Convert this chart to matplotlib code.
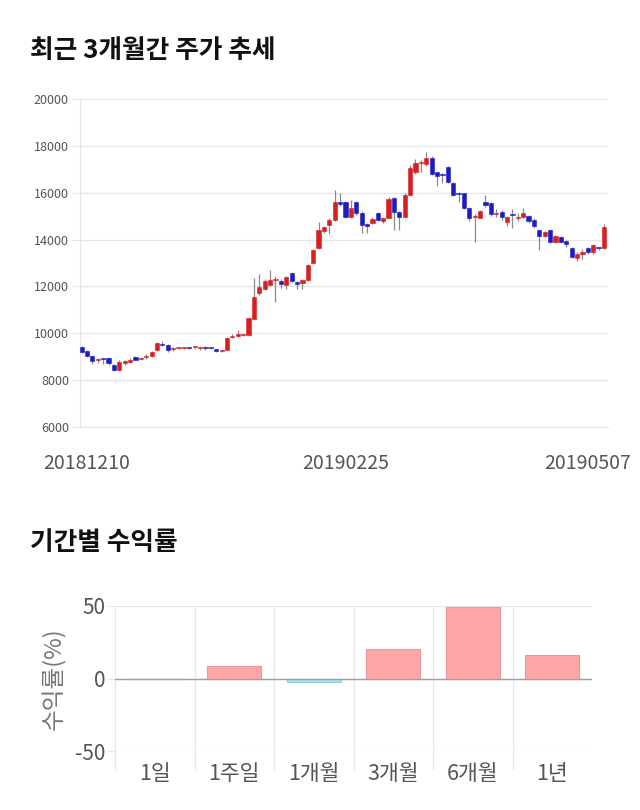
import numpy as np
import matplotlib
matplotlib.use("Agg")
import matplotlib.pyplot as plt
import matplotlib.transforms as mtransforms

plt.rcParams['font.family'] = ['Noto Sans CJK KR', 'DejaVu Sans']
plt.rcParams['axes.unicode_minus'] = False

# daily candles (open, close, high, low)
opens = [9400, 9250, 9050, 8850, 8900, 8950, 8650, 8450, 8730, 8780,
         9000, 8900, 9000, 9050, 9290, 9560, 9500, 9330, 9370, 9380,
         9390, 9400, 9380, 9400, 9380, 9330, 9250, 9300, 9840, 9900,
         9930, 9930, 10610, 11720, 11890, 12060, 12290, 12230, 12060, 12570,
         12190, 12150, 12270, 13000, 13640, 14370, 14620, 14840, 15600, 15600,
         14960, 15600, 15130, 14660, 14710, 15130, 14800, 14920, 15780, 15180,
         14960, 15900, 16880, 17260, 17230, 17480, 16880, 16800, 17100, 16420,
         15990, 15990, 15350, 14960, 14920, 15600, 15560, 15100, 15180, 14750,
         15100, 14900, 14960, 15000, 14840, 14410, 14150, 14410, 13900, 14110,
         13940, 13640, 13220, 13400, 13640, 13470, 13660, 13640]
closes = [9200, 9050, 8820, 8880, 8890, 8750, 8450, 8770, 8800, 8860,
          8880, 8940, 9010, 9200, 9580, 9500, 9290, 9350, 9380, 9390,
          9380, 9400, 9400, 9380, 9370, 9250, 9300, 9800, 9860, 9950,
          9940, 10650, 11550, 11970, 12230, 12270, 12310, 12100, 12400, 12230,
          12100, 12275, 12900, 13550, 14400, 14540, 14840, 15600, 15520, 14960,
          15350, 15130, 14620, 14580, 14880, 14840, 14900, 15730, 15180, 14960,
          15900, 17060, 17270, 17280, 17480, 16800, 16710, 16750, 16460, 15900,
          15950, 15350, 14920, 15010, 15220, 15470, 15090, 15140, 14960, 14960,
          15050, 14950, 15130, 14790, 14580, 14150, 14320, 13900, 14150, 13900,
          13810, 13260, 13380, 13450, 13470, 13770, 13620, 14540]
highs = [9450, 9280, 9080, 8950, 8950, 9000, 8700, 8850, 8850, 8950,
         9050, 9000, 9100, 9250, 9620, 9650, 9550, 9400, 9420, 9430,
         9420, 9430, 9420, 9450, 9400, 9350, 9320, 9850, 9950, 10150,
         9980, 10700, 12360, 12530, 12300, 12700, 12450, 12300, 12450, 12600,
         12250, 12300, 12950, 13600, 14750, 14600, 14900, 16110, 15990, 15650,
         15690, 15650, 15200, 14700, 14950, 15180, 14950, 15800, 15820, 15200,
         16000, 17200, 17450, 17400, 17740, 17550, 16900, 16850, 17150, 16450,
         16050, 16000, 15400, 15100, 15250, 15900, 15600, 15300, 15250, 15000,
         15300, 15150, 15350, 15050, 14900, 14450, 14350, 14450, 14200, 14150,
         14000, 13700, 13450, 13600, 13700, 13800, 13700, 14650]
lows = [9150, 9000, 8700, 8750, 8700, 8650, 8400, 8400, 8650, 8750,
        8850, 8850, 8900, 9000, 9250, 9450, 9200, 9250, 9330, 9340,
        9330, 9350, 9300, 9300, 9330, 9200, 9220, 9270, 9800, 9850,
        9880, 9900, 10550, 11650, 11850, 12000, 11340, 11950, 11900, 12200,
        11900, 11900, 12250, 12950, 13600, 14300, 14250, 14800, 15450, 14900,
        14900, 15050, 14280, 14300, 14650, 14800, 14700, 14900, 14400, 14400,
        14900, 15850, 16800, 16900, 17150, 16750, 16300, 16400, 16400, 15850,
        15600, 15300, 14800, 13900, 14900, 15400, 15000, 14950, 14850, 14600,
        14500, 14800, 14900, 14700, 14500, 13560, 14100, 13850, 13850, 13850,
        13700, 13200, 13100, 13150, 13400, 13400, 13550, 13600]
date_ticks = [0, 49, 97]
date_labels = ['20181210', '20190225', '20190507']

# period returns (%)
periods = ['1일', '1주일', '1개월', '3개월', '6개월', '1년']
returns = [0, 8.3, -2.6, 20.2, 49.0, 16.4]

UP = '#d71f1f'
DOWN = '#1c1cc6'
GRID = '#e6e6e6'
TXT = '#555555'

fig = plt.figure(figsize=(6.4, 8.1), dpi=100)

fig.text(30 / 640, 1 - 50 / 810, '최근 3개월간 주가 추세', fontsize=18.5,
         fontweight='bold', color='#111111', va='center', ha='left')
fig.text(30 / 640, 1 - 543 / 810, '기간별 수익률', fontsize=18.5,
         fontweight='bold', color='#111111', va='center', ha='left')

# ---- candlestick chart ----
ax = fig.add_axes([80 / 640, 1 - 427 / 810, 528 / 640, 328 / 810])
o = np.array(opens, float)
c = np.array(closes, float)
h = np.array(highs, float)
l = np.array(lows, float)
idx = np.arange(len(o))
up = c >= o
cols = np.where(up, UP, DOWN)
ax.vlines(idx, l, h, color='#8a8a8a', lw=0.9, zorder=2)
body_lo = np.minimum(o, c)
body_h = np.maximum(np.abs(c - o), 45)
ax.bar(idx, body_h, bottom=body_lo, width=0.78, color=cols, edgecolor=cols,
       lw=0.4, zorder=3)

ax.set_ylim(6000, 20000)
ax.set_yticks(np.arange(6000, 20001, 2000))
ax.set_xlim(-0.3, len(o) - 1 + 0.75)
ax.set_xticks(date_ticks)
ax.set_xticklabels(date_labels)
ax.grid(axis='y', color=GRID, lw=0.9, zorder=0)
for s in ['top', 'right']:
    ax.spines[s].set_visible(False)
ax.spines['left'].set_color(GRID)
ax.spines['bottom'].set_color(GRID)
ax.tick_params(axis='y', length=6, color=GRID, labelsize=9, labelcolor=TXT, pad=2)
ax.tick_params(axis='x', length=0, labelsize=14, labelcolor=TXT, pad=19)
ax.set_axisbelow(True)
xl = ax.get_xticklabels()
xl[0].set_transform(xl[0].get_transform() +
                    mtransforms.ScaledTranslation(0.05, 0, fig.dpi_scale_trans))
xl[-1].set_transform(xl[-1].get_transform() +
                     mtransforms.ScaledTranslation(-0.16, 0, fig.dpi_scale_trans))

# ---- period returns bar chart ----
bx = fig.add_axes([115 / 640, 1 - 751 / 810, 477 / 640, 145 / 810])
pos = np.arange(len(periods))
r = np.array(returns, float)
fill = np.where(r >= 0, '#ffa6a6', '#a9e3f2')
edge = np.where(r >= 0, '#e89a9a', '#90d0e6')
bx.bar(pos, r, width=0.68, color=fill, edgecolor=edge, lw=0.8, zorder=3)
bx.axhline(0, color='#a0a0a0', lw=1.0, zorder=4)
bx.set_ylim(-50, 50)
bx.set_xlim(-0.5, len(periods) - 0.5)
bx.set_yticks([-50, 0, 50])
bx.set_xticks(pos)
bx.set_xticklabels(periods)
bx.set_xticks(np.arange(-0.5, len(periods) - 1, 1), minor=True)
bx.grid(axis='y', color=GRID, lw=0.9, zorder=0)
bx.grid(axis='x', which='minor', color=GRID, lw=0.9, zorder=0)
for s in ['top', 'right', 'bottom', 'left']:
    bx.spines[s].set_visible(False)
bx.tick_params(axis='x', which='major', length=0, labelsize=15.5, labelcolor=TXT, pad=9)
bx.tick_params(axis='x', which='minor', length=14, color=GRID, width=0.9)
bx.tick_params(axis='y', length=5, color=GRID, labelsize=15, labelcolor=TXT, pad=2)
bx.set_ylabel('수익률(%)', fontsize=17, color='#777777', labelpad=6)
bx.set_axisbelow(True)

fig.savefig('out.png', dpi=100, facecolor='white')
